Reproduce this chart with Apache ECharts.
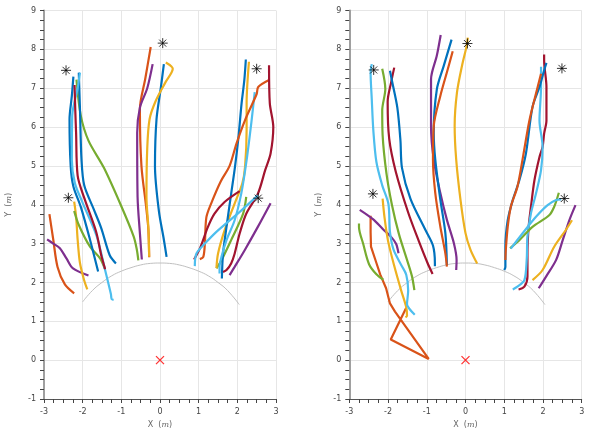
<!DOCTYPE html>
<html><head><meta charset="utf-8">
<script src="https://cdn.jsdelivr.net/npm/echarts@6/dist/echarts.min.js"></script>
<style>html,body{margin:0;padding:0;background:#fff}#c{width:590px;height:434px}</style>
</head><body><div id="c"></div>
<script>
// ---------- tick labels ----------
const xTicks = [-3,-2,-1,0,1,2,3];
const yTicks = [-1,0,1,2,3,4,5,6,7,8,9];

// ---------- reference arc (radius 2.5) ----------
const arcX = [-2.0,-1.75,-1.5,-1.25,-1.0,-0.75,-0.5,-0.25,0,0.25,0.5,0.75,1.0,1.25,1.5,1.75,2.05];
const arcY = [1.5,1.79,2.0,2.17,2.29,2.38,2.45,2.49,2.5,2.49,2.45,2.38,2.29,2.17,2.0,1.79,1.43];

// ---------- markers ----------
const origin = [[0,0]];
const starsLeft  = [[-2.43,7.46],[-2.37,4.18],[0.07,8.16],[2.5,7.5],[2.54,4.17]];
const starsRight = [[-2.37,7.47],[-2.39,4.28],[0.05,8.15],[2.49,7.51],[2.55,4.16]];

// ---------- left panel trajectories ----------
const L1  = [[-2.24,7.3],[-2.28,6.8],[-2.34,6.2],[-2.31,5.0],[-2.24,4.47],[-2.05,3.95],[-1.81,3.1],[-1.6,2.28]];
const L2  = [[-2.1,7.4],[-2.07,6.46],[-2.03,5.16],[-1.96,4.5],[-1.72,3.9],[-1.52,3.4],[-1.3,2.7],[-1.14,2.49]];
const L3  = [[-2.07,7.4],[-2.13,7.0],[-2.27,6.3],[-2.28,5.15],[-2.2,4.55],[-2.0,4.05],[-1.64,3.2],[-1.42,2.32],[-1.27,1.7],[-1.25,1.57],[-1.2,1.55]];
const L4  = [[-2.21,7.08],[-2.19,6.4],[-2.17,5.85],[-2.13,4.75],[-1.95,4.15],[-1.65,3.3],[-1.52,2.7],[-1.45,2.45],[-1.42,2.34]];
const L5  = [[-2.16,7.22],[-2.05,6.3],[-1.85,5.65],[-1.45,4.95],[-1.0,3.96],[-0.68,3.18],[-0.6,2.85],[-0.56,2.57]];
const L6  = [[-2.86,3.76],[-2.76,3.1],[-2.65,2.4],[-2.46,1.95],[-2.22,1.72]];
const L7  = [[-2.92,3.11],[-2.76,3.0],[-2.59,2.88],[-2.42,2.62],[-2.25,2.36],[-1.85,2.18]];
const L8  = [[-2.22,4.08],[-2.17,3.7],[-2.13,3.1],[-2.07,2.5],[-1.96,2.05],[-1.88,1.82]];
const L9  = [[-2.22,3.84],[-2.1,3.48],[-1.81,2.92],[-1.55,2.62],[-1.43,2.36]];
const L10 = [[-0.24,8.06],[-0.38,7.25],[-0.52,6.46],[-0.48,5.0],[-0.36,3.96],[-0.3,3.35],[-0.28,2.65]];
const L11 = [[-0.19,7.62],[-0.33,7.0],[-0.52,6.5],[-0.59,5.85],[-0.58,4.2],[-0.52,3.27],[-0.47,2.59]];
const L12 = [[0.1,7.62],[0.02,7.0],[-0.09,6.2],[-0.13,5.0],[-0.03,3.85],[0.1,3.1],[0.17,2.66]];
const L13 = [[0.15,7.66],[0.33,7.5],[0.14,7.15],[-0.12,6.65],[-0.27,6.2],[-0.33,5.45],[-0.35,4.2],[-0.3,3.4],[-0.28,2.66]];
const L14 = [[2.22,7.74],[2.18,7.2],[2.11,6.61],[2.03,5.75],[1.94,4.98],[1.84,4.28],[1.72,3.43],[1.63,2.74],[1.6,2.1]];
const L15 = [[2.3,7.68],[2.24,6.61],[2.24,5.92],[2.2,4.98],[2.13,4.55],[1.93,4.03],[1.67,3.34],[1.5,2.74],[1.46,2.37]];
const L16 = [[2.82,7.21],[2.54,7.03],[2.5,6.85],[2.2,6.18],[1.98,5.58],[1.8,5.0],[1.57,4.6],[1.33,4.05],[1.2,3.68],[1.16,3.0],[1.12,2.66],[1.03,2.6]];
const L17 = [[2.82,7.59],[2.84,6.61],[2.93,6.0],[2.86,5.32],[2.72,4.89],[2.53,4.28],[2.23,3.77],[2.06,3.26],[1.93,2.74],[1.84,2.49],[1.72,2.32],[1.63,2.27]];
const L18 = [[2.06,4.35],[1.67,4.07],[1.41,3.77],[1.24,3.43],[1.03,2.87],[0.88,2.59]];
const L19 = [[2.45,6.9],[2.37,6.18],[2.24,5.15],[2.1,4.28],[1.93,3.6],[1.72,3.09],[1.59,2.66],[1.54,2.4],[1.54,2.23]];
const L20 = [[2.53,4.24],[2.1,3.85],[1.5,3.34],[1.16,3.0],[0.94,2.74],[0.9,2.42]];
const L21 = [[2.23,4.2],[2.15,3.77],[1.84,3.09],[1.59,2.57],[1.46,2.36]];
const L22 = [[2.86,4.04],[2.53,3.43],[2.19,2.83],[1.93,2.4],[1.8,2.19]];

// ---------- right panel trajectories ----------
const R1  = [[-2.42,7.62],[-2.45,7.4],[-2.42,6.72],[-2.38,5.92],[-2.3,5.1],[-2.15,4.5],[-1.99,4.02],[-1.95,3.3],[-1.86,2.85],[-1.66,2.45],[-1.53,2.2],[-1.48,1.79],[-1.51,1.44],[-1.44,1.31],[-1.31,1.17]];
const R2  = [[-2.15,7.5],[-2.07,6.98],[-2.15,6.43],[-2.14,5.8],[-2.04,4.8],[-1.9,4.0],[-1.72,3.25],[-1.5,2.55],[-1.38,2.15],[-1.32,1.8]];
const R3  = [[-1.84,7.53],[-1.92,7.15],[-2.01,6.65],[-1.97,5.7],[-1.8,4.85],[-1.48,3.8],[-1.2,3.05],[-0.98,2.5],[-0.85,2.22]];
const R4  = [[-1.95,7.45],[-1.9,7.2],[-1.76,6.5],[-1.68,5.66],[-1.64,4.95],[-1.42,4.15],[-1.05,3.38],[-0.84,2.95],[-0.79,2.49],[-0.79,2.42]];
const R5  = [[-2.73,3.87],[-2.39,3.63],[-2.13,3.37],[-1.91,3.16],[-1.79,2.99],[-1.73,2.75]];
const R6  = [[-2.75,3.52],[-2.75,3.43],[-2.64,2.99],[-2.49,2.47],[-2.3,2.21],[-2.12,2.07]];
const R7  = [[-2.45,3.72],[-2.45,3.3],[-2.44,2.92],[-2.3,2.5],[-2.2,2.2],[-2.05,1.85],[-1.95,1.46],[-1.82,1.25],[-0.95,0.03],[-1.93,0.53],[-1.53,1.35]];
const R8  = [[-2.14,4.16],[-2.09,3.67],[-2.0,3.07],[-1.83,2.39],[-1.66,1.79],[-1.53,1.36],[-1.51,1.14],[-1.55,1.1]];
const R9  = [[-0.64,8.37],[-0.74,7.84],[-0.89,7.23],[-0.89,6.03],[-0.82,5.16],[-0.65,4.3],[-0.48,3.61],[-0.3,3.01],[-0.23,2.58],[-0.24,2.32]];
const R10 = [[-0.36,8.25],[-0.56,7.58],[-0.74,6.97],[-0.82,5.85],[-0.78,5.16],[-0.65,4.13],[-0.52,3.27],[-0.48,2.45]];
const R11 = [[-0.33,7.95],[-0.48,7.41],[-0.65,6.8],[-0.82,6.03],[-0.84,5.16],[-0.78,4.3],[-0.65,3.44],[-0.52,2.75],[-0.48,2.41]];
const R12 = [[0.06,8.3],[0.03,8.09],[-0.09,7.58],[-0.22,6.89],[-0.28,6.03],[-0.24,5.16],[-0.13,4.13],[0.0,3.27],[0.13,2.84],[0.3,2.49]];
const R13 = [[2.03,7.87],[2.03,7.72],[2.09,7.03],[2.09,6.17],[2.03,5.83],[1.99,5.49],[1.91,5.23],[1.78,4.63],[1.69,3.95],[1.63,3.43],[1.6,2.75],[1.6,2.15],[1.52,1.89],[1.37,1.82]];
const R14 = [[2.09,7.65],[2.03,7.46],[1.91,7.03],[1.73,6.52],[1.56,5.32],[1.39,4.63],[1.22,4.12],[1.09,3.6],[1.03,2.92],[1.03,2.4],[1.0,2.32]];
const R15 = [[1.95,7.37],[1.82,6.86],[1.65,6.17],[1.47,5.15],[1.34,4.46],[1.17,3.95],[1.09,3.43],[1.04,2.83],[1.03,2.58]];
const R16 = [[1.95,7.55],[1.95,7.03],[1.91,6.17],[1.99,5.49],[1.95,4.89],[1.82,4.29],[1.69,3.78],[1.6,3.18],[1.58,2.58],[1.52,2.06],[1.34,1.89],[1.22,1.82]];
const R17 = [[1.15,2.88],[1.39,3.09],[1.73,3.43],[2.16,3.73],[2.29,3.95],[2.41,4.31]];
const R18 = [[1.17,2.87],[1.47,3.26],[1.82,3.69],[2.12,3.99],[2.34,4.12],[2.47,4.14]];
const R19 = [[1.73,2.06],[1.99,2.32],[2.29,2.92],[2.59,3.35],[2.75,3.6]];
const R20 = [[1.89,1.85],[2.08,2.15],[2.34,2.58],[2.51,3.09],[2.68,3.6],[2.84,3.99]];

// ---------- colours ----------
const COL = {blue:'#0072BD', orange:'#D95319', yellow:'#EDB120', purple:'#7E2F8E', green:'#77AC30', lblue:'#4DBEEE', dred:'#A2142F'};

const leftTracks = [
  ['orange',L6],['purple',L7],['yellow',L8],['green',L9],['green',L5],['blue',L1],['blue',L2],['lblue',L3],['dred',L4],
  ['orange',L10],['purple',L11],['blue',L12],['yellow',L13],
  ['purple',L22],['green',L21],['yellow',L15],['blue',L14],['lblue',L19],['orange',L16],['dred',L17],['dred',L18],['lblue',L20]
];
const rightTracks = [
  ['orange',R7],['green',R6],['purple',R5],['yellow',R8],['lblue',R1],['green',R2],['dred',R3],['blue',R4],
  ['purple',R9],['blue',R10],['orange',R11],['yellow',R12],
  ['purple',R20],['yellow',R19],['dred',R13],['lblue',R16],['blue',R14],['orange',R15],['green',R17],['lblue',R18]
];

const starPath = 'path://M0,5L10,5M5,0L5,10M1.5,1.5L8.5,8.5M8.5,1.5L1.5,8.5';
const xPath = 'path://M0,0L10,10M10,0L0,10';
const nameRich = {i:{fontStyle:'italic', fontSize:8, color:'#666', fontFamily:'DejaVu Serif'}};

function xAxisDef(gi){
  return {type:'value', gridIndex:gi, min:-3, max:3, interval:1,
    name:'X  ({i|m})', nameLocation:'middle', nameGap:21,
    nameTextStyle:{fontSize:8, color:'#666', fontFamily:'DejaVu Sans', rich:nameRich},
    axisLine:{show:true, onZero:false, lineStyle:{color:'#555', width:1}},
    axisTick:{show:true, length:4, lineStyle:{color:'#444'}},
    minorTick:{show:true, splitNumber:4, length:4, lineStyle:{color:'#444'}},
    axisLabel:{fontSize:8, color:'#444', margin:9, fontFamily:'DejaVu Sans'},
    splitLine:{show:true, lineStyle:{color:'#e6e6e6', width:1}}};
}
function yAxisDef(gi, gap){
  return {type:'value', gridIndex:gi, min:-1, max:9, interval:1,
    name:'Y  ({i|m})', nameLocation:'middle', nameGap:gap,
    nameTextStyle:{fontSize:8, color:'#666', fontFamily:'DejaVu Sans', rich:nameRich},
    axisLine:{show:true, onZero:false, lineStyle:{color:'#a0a0a0', width:2}},
    axisTick:{show:true, length:4, lineStyle:{color:'#444'}},
    minorTick:{show:true, splitNumber:4, length:4, lineStyle:{color:'#444'}},
    axisLabel:{fontSize:8, color:'#444', margin:8, fontFamily:'DejaVu Sans'},
    splitLine:{show:true, lineStyle:{color:'#e6e6e6', width:1}}};
}

const series = [];
function addPanel(gi, tracks, stars){
  series.push({type:'line', xAxisIndex:gi, yAxisIndex:gi, data:arcX.map((x,i)=>[x,arcY[i]]),
    showSymbol:false, smooth:true, lineStyle:{color:'#c0c0c0', width:1}, silent:true, z:1});
  tracks.forEach(([c,d])=>{
    series.push({type:'line', xAxisIndex:gi, yAxisIndex:gi, data:d, showSymbol:false,
      smooth: d===R7 ? false : 0.3, lineStyle:{color:COL[c], width:2.2}, z:2});
  });
  series.push({type:'scatter', xAxisIndex:gi, yAxisIndex:gi, data:stars, symbol:starPath, symbolSize:10,
    itemStyle:{color:'rgba(0,0,0,0)', borderColor:'#000', borderWidth:1}, z:5});
  series.push({type:'scatter', xAxisIndex:gi, yAxisIndex:gi, data:origin, symbol:xPath, symbolSize:8,
    itemStyle:{color:'rgba(0,0,0,0)', borderColor:'#ff0000', borderWidth:1.3}, z:5});
}
addPanel(0, leftTracks, starsLeft);
addPanel(1, rightTracks, starsRight);

const chart = echarts.init(document.getElementById('c'), null, {renderer:'canvas'});
chart.setOption({
  animation:false,
  backgroundColor:'#fff',
  grid:[{left:44, top:10.5, width:232, height:388.5},{left:349.3, top:10.5, width:232.4, height:388.5}],
  xAxis:[xAxisDef(0), xAxisDef(1)],
  yAxis:[yAxisDef(0,31), yAxisDef(1,26)],
  series: series
});
</script></body></html>
